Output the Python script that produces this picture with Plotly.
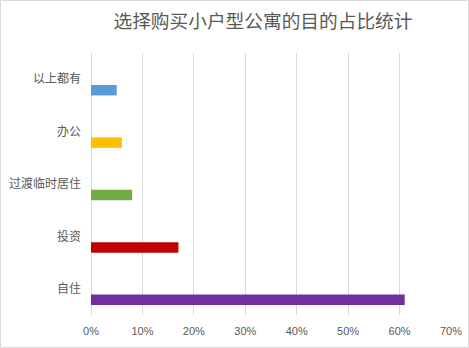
import plotly.graph_objects as go

# Purpose categories, top to bottom as shown
categories = ["以上都有", "办公", "过渡临时居住", "投资", "自住"]
shares = [0.05, 0.06, 0.08, 0.17, 0.61]
colors = ["#5b9bd5", "#ffc000", "#70ad47", "#c00000", "#7030a0"]

x_ticks = [0, 0.1, 0.2, 0.3, 0.4, 0.5, 0.6, 0.7]
title_text = "选择购买小户型公寓的目的占比统计"

W, H = 469, 348
ML, MR, MT, MB = 91, 18, 53, 33

# plotly's category axis runs bottom-up, so feed the lists reversed
fig = go.Figure(
    go.Bar(
        x=shares[::-1],
        y=categories[::-1],
        orientation="h",
        marker=dict(color=colors[::-1], line=dict(width=0)),
        width=0.2,
        offset=-0.31,
        hoverinfo="x+y",
    )
)

grid = "#d9d9d9"
text_gray = "#595959"
cjk = "Noto Sans CJK SC, Microsoft YaHei, sans-serif"

fig.update_layout(
    width=W,
    height=H,
    margin=dict(l=ML, r=MR, t=MT, b=MB, autoexpand=False),
    paper_bgcolor="white",
    plot_bgcolor="white",
    showlegend=False,
    title=dict(
        text=title_text,
        x=263 / W,
        xanchor="center",
        xref="container",
        y=1 - 21 / H,
        yanchor="middle",
        yref="container",
        font=dict(family=cjk, size=18.7, color=text_gray),
    ),
    xaxis=dict(
        range=[0, 0.7],
        tickvals=x_ticks,
        tickformat=".0%",
        showgrid=True,
        gridcolor=grid,
        gridwidth=1,
        zeroline=True,
        zerolinecolor=grid,
        zerolinewidth=1,
        showline=False,
        ticks="",
        ticklabelstandoff=8,
        automargin=False,
        tickfont=dict(family="Liberation Sans, Arial, sans-serif", size=11, color=text_gray),
        fixedrange=True,
    ),
    yaxis=dict(
        categoryorder="array",
        categoryarray=categories[::-1],
        range=[-0.5, 4.5],
        showgrid=False,
        zeroline=False,
        showline=False,
        ticks="",
        ticklabelstandoff=9,
        automargin=False,
        tickfont=dict(family=cjk, size=12, color=text_gray),
        fixedrange=True,
    ),
)

# thin outer frame around the whole chart
pw, ph = W - ML - MR, H - MT - MB
fig.add_shape(
    type="rect",
    xref="paper",
    yref="paper",
    x0=(0.5 - ML) / pw,
    x1=(W - 0.5 - ML) / pw,
    y0=-(MB - 0.5) / ph,
    y1=1 + (MT - 0.5) / ph,
    line=dict(color=grid, width=1),
    fillcolor="rgba(0,0,0,0)",
    layer="below",
)

fig.write_html("out.html")
